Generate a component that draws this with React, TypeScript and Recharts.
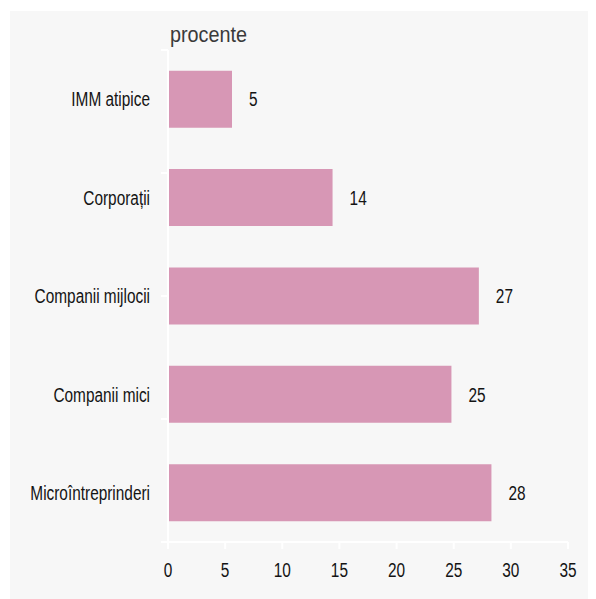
import React from 'react';
import { BarChart, Bar, XAxis, YAxis, LabelList } from 'recharts';

const categories = ['IMM atipice', 'Corporații', 'Companii mijlocii', 'Companii mici', 'Microîntreprinderi'];
const shares = [5.6, 14.4, 27.2, 24.8, 28.3];
const shareLabels = ['5', '14', '27', '25', '28'];
const xTicks = [0, 5, 10, 15, 20, 25, 30, 35];
const bandTicks = [0, 1, 2, 3, 4, 5];

const data = categories.map((name, i) => ({ name, value: shares[i], label: shareLabels[i] }));

const FONT = '"Liberation Sans", Arial, sans-serif';
const TEXT = '#141414';
const BAR = '#d797b5';
const SQUEEZE = 0.77;

// condensed look: no narrow face is installed, so squeeze the glyphs horizontally
const NarrowText = ({ x, y, anchor, dy, children }: any) => (
  <g transform={`translate(${x},${y})`}>
    <text
      transform={`scale(${SQUEEZE},1)`}
      textAnchor={anchor}
      dy={dy}
      fill={TEXT}
      fontSize={20}
      fontFamily={FONT}
    >
      {children}
    </text>
  </g>
);

const XTick = (props: any) => (
  <NarrowText x={props.x} y={props.y} anchor="middle" dy="0.71em">
    {props.payload.value}
  </NarrowText>
);

const YTick = (props: any) => (
  <NarrowText x={props.x} y={props.y} anchor="end" dy="0.36em">
    {props.payload.value}
  </NarrowText>
);

const ValueLabel = (props: any) => {
  const { x, y, width, height, value } = props;
  return (
    <NarrowText x={Number(x) + Number(width) + 17} y={Number(y) + Number(height) / 2} anchor="start" dy="0.36em">
      {value}
    </NarrowText>
  );
};

const NoTick = () => <g />;

const App: React.FC = () => {
  return (
    <div
      style={{
        position: 'relative',
        width: 586,
        height: 588,
        marginLeft: 2,
        marginTop: 3,
        background: '#f7f7f7',
      }}
    >
      <div
        style={{
          position: 'absolute',
          left: 160,
          top: 13,
          fontSize: 22,
          lineHeight: '22px',
          color: '#3a3a3a',
          fontFamily: FONT,
          transform: 'scaleX(0.9)',
          transformOrigin: 'left top',
        }}
      >
        procente
      </div>
      <BarChart
        width={586}
        height={588}
        data={data}
        layout="vertical"
        margin={{ top: 39, right: 28, left: 0, bottom: 27 }}
        barCategoryGap="21%"
      >
        <XAxis
          type="number"
          domain={[0, 35]}
          ticks={xTicks}
          interval={0}
          height={30}
          tickSize={7}
          tickMargin={14}
          axisLine={{ stroke: '#ffffff', strokeWidth: 2 }}
          tickLine={{ stroke: '#ffffff', strokeWidth: 2 }}
          tick={<XTick />}
        />
        <YAxis
          yAxisId={0}
          type="number"
          domain={[0, 5]}
          ticks={bandTicks}
          interval={0}
          width={8}
          tickSize={7}
          tick={<NoTick />}
          axisLine={{ stroke: '#ffffff', strokeWidth: 2 }}
          tickLine={{ stroke: '#ffffff', strokeWidth: 2 }}
        />
        <YAxis
          yAxisId="cat"
          type="category"
          dataKey="name"
          width={150}
          tickSize={0}
          tickMargin={10}
          axisLine={false}
          tickLine={false}
          tick={<YTick />}
        />
        <Bar yAxisId="cat" dataKey="value" fill={BAR} isAnimationActive={false}>
          <LabelList dataKey="label" content={<ValueLabel />} />
        </Bar>
      </BarChart>
    </div>
  );
};

export default App;
